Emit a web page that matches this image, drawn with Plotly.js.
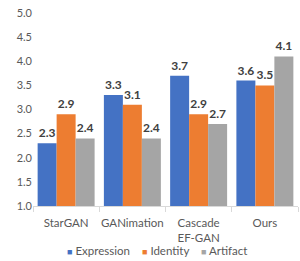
<!DOCTYPE html>
<html><head><meta charset="utf-8">
<script src="https://cdn.plot.ly/plotly-3.0.1.min.js"></script>
<style>html,body{margin:0;padding:0;background:#fff}#c{width:300px;height:261px}</style>
</head><body><div id="c"></div>
<script>
const categories = ["StarGAN", "GANimation", "Cascade<br>EF-GAN", "Ours"];
const seriesNames = ["Expression", "Identity", "Artifact"];
const expression = [2.3, 3.3, 3.7, 3.6];
const identity = [2.9, 3.1, 2.9, 3.5];
const artifact = [2.4, 2.4, 2.7, 4.1];
const colors = ["#4472C4", "#ED7D31", "#A5A5A5"];
const yTicks = [1.0, 1.5, 2.0, 2.5, 3.0, 3.5, 4.0, 4.5, 5.0];

const font = "Lato, 'Open Sans', sans-serif";
const data = [expression, identity, artifact].map((vals, i) => ({
  type: "bar",
  name: seriesNames[i],
  x: categories,
  y: vals,
  marker: {color: colors[i]},
  text: vals.map(v => v.toFixed(1)),
  textposition: "outside",
  cliponaxis: false,
  textfont: {family: font, size: 12, color: "#404040", weight: "bold"},
  hoverinfo: "none"
}));

// legend drawn as text annotations (compact like the original)
const legendX = [0.122, 0.405, 0.628];
const annotations = seriesNames.map((n, i) => ({
  xref: "paper", yref: "paper", x: legendX[i] , xanchor: "left",
  y: -0.232, yanchor: "middle", showarrow: false,
  text: `<span style="color:${colors[i]};font-size:9px">■</span> ${n}`,
  font: {family: font, size: 11.5, color: "#595959"}
}));

const layout = {
  width: 300, height: 261,
  margin: {l: 33, r: 2, t: 13, b: 55},
  paper_bgcolor: "#fff", plot_bgcolor: "#fff",
  barmode: "group",
  bargap: 0.14, bargroupgap: 0,
  showlegend: false,
  annotations: annotations,
  xaxis: {
    tickfont: {family: font, size: 11.5, color: "#595959"},
    tickangle: 0, automargin: false, ticklabelstandoff: 6,
    showline: true, linecolor: "#D9D9D9", linewidth: 1,
    ticks: "outside", ticklen: 5, tickcolor: "#D9D9D9",
    tickson: "boundaries", showgrid: false, fixedrange: true
  },
  yaxis: {
    range: [1, 5], tickvals: yTicks, ticktext: yTicks.map(v => v.toFixed(1)),
    tickfont: {family: font, size: 11, color: "#595959"}, automargin: false,
    showgrid: false, zeroline: false, showline: false, ticks: "", fixedrange: true
  },
  font: {family: font}
};
Plotly.newPlot("c", data, layout, {displayModeBar: false, staticPlot: true});
</script></body></html>
